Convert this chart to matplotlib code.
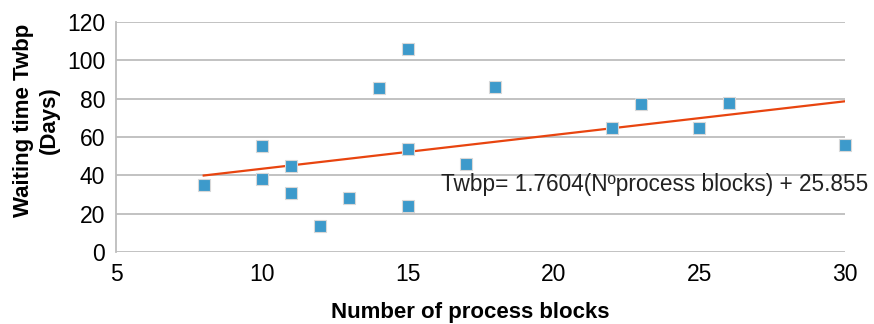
import numpy as np
import matplotlib
matplotlib.use('Agg')
import matplotlib.pyplot as plt

plt.rcParams['font.family'] = ['Liberation Sans', 'DejaVu Sans']

# Datos: numero de bloques de proceso vs tiempo de espera
blocks = [8, 10, 10, 11, 11, 12, 13, 14, 15, 15, 15, 17, 18, 22, 23, 25, 26, 30]
wait_days = [35, 55.5, 38, 45, 31, 13.5, 28, 85.5, 106, 54, 24, 46, 86, 64.5, 77, 64.5, 78, 56]

slope = 1.7604
intercept = 25.855
x_ticks = [5, 10, 15, 20, 25, 30]
y_ticks = [0, 20, 40, 60, 80, 100, 120]

fig = plt.figure(figsize=(8.74, 3.24), dpi=100)
ax = fig.add_axes([0.133, 0.222, 0.834, 0.71])

for yt in y_ticks:
    ax.axhline(yt, color='#bdbdbd', lw=1.3, zorder=1)

xl = np.array([min(blocks), max(blocks)])
ax.plot(xl, slope*xl + intercept, '-', color='#e8440f', lw=1.6, zorder=2)
ax.plot(blocks, wait_days, 's', color='#3d9acb', markeredgecolor='#d8d8d8',
        markeredgewidth=0.8, markersize=8.5, zorder=3, clip_on=False)

ax.text(16.15, 35.5, 'Twbp= 1.7604(N\u00baprocess blocks) + 25.855',
        fontsize=16.3, va='center', ha='left', color='#222222', zorder=4)

ax.set_xlim(5, 30)
ax.set_ylim(0, 120)
ax.set_xticks(x_ticks)
ax.set_yticks(y_ticks)
ax.tick_params(length=0, labelsize=16.5, pad=8)
for s in ['top', 'right', 'bottom']:
    ax.spines[s].set_visible(False)
ax.spines['left'].set_color('#bdbdbd')
ax.spines['left'].set_linewidth(1.3)

ax.set_xlabel('Number of process blocks', fontsize=16, fontweight='bold')
ax.xaxis.set_label_coords(0.486, -0.215)
ax.set_ylabel('Waiting time Twbp\n(Days)', fontsize=16, fontweight='bold',
              linespacing=1.3)
ax.yaxis.set_label_coords(-0.078, 0.574)

fig.savefig('out.png', dpi=100)
